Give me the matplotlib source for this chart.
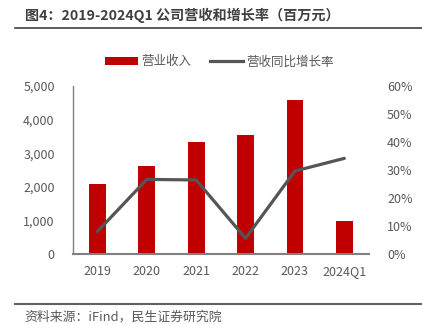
import matplotlib
matplotlib.use("Agg")
import matplotlib.pyplot as plt
from matplotlib.ticker import FuncFormatter, MultipleLocator
from matplotlib.lines import Line2D
from matplotlib.patches import Patch

plt.rcParams['font.family'] = ['Noto Sans CJK SC', 'DejaVu Sans']

categories = ["2019", "2020", "2021", "2022", "2023", "2024Q1"]
revenue = [2080, 2635, 3335, 3535, 4570, 995]
growth = [8.1, 26.7, 26.5, 5.7, 29.7, 34.2]

title = "图4：2019-2024Q1 公司营收和增长率（百万元）"
source = "资料来源：iFind，民生证券研究院"
bar_label = "营业收入"
line_label = "营收同比增长率"

bar_color = "#C00000"
line_color = "#555555"
text_color = "#595959"
spine_color = "#808080"

fig = plt.figure(figsize=(4.22, 3.24), dpi=100)
ax = fig.add_axes([72.7/422, 1-254.3/324, (369-72.7)/422, (254.3-86)/324])
ax2 = ax.twinx()

x = list(range(len(categories)))
ax.bar(x, revenue, width=0.34, color=bar_color, zorder=2)
ax2.plot(x, growth, color=line_color, lw=2.3, solid_capstyle='round', zorder=3)

ax.set_xlim(-0.5, len(categories) - 0.5)
ax.set_ylim(0, 5000)
ax2.set_ylim(0, 60)
ax.yaxis.set_major_locator(MultipleLocator(1000))
ax2.yaxis.set_major_locator(MultipleLocator(10))
ax.yaxis.set_major_formatter(FuncFormatter(lambda v, p: f"{int(v):,}"))
ax2.yaxis.set_major_formatter(FuncFormatter(lambda v, p: f"{int(v)}%"))
ax.set_xticks(x)
ax.set_xticklabels(categories)

for a in (ax, ax2):
    for s in ("top", "right", "left", "bottom"):
        a.spines[s].set_visible(False)
    a.tick_params(length=0, labelsize=9, colors=text_color)
ax.spines["left"].set_visible(True)
ax.spines["left"].set_color(spine_color)
ax.spines["left"].set_linewidth(1.0)
ax.spines["bottom"].set_visible(True)
ax.spines["bottom"].set_color(spine_color)
ax.spines["bottom"].set_linewidth(1.5)
ax.tick_params(axis='y', pad=13)
ax.tick_params(axis='x', pad=8)
ax2.tick_params(axis='y', pad=13)

handles = [Patch(facecolor=bar_color, edgecolor='none'),
           Line2D([0], [0], color=line_color, lw=2.3)]
fig.legend(handles, [bar_label, line_label], loc='center', bbox_to_anchor=(0.52, 1-62/324),
           ncol=2, frameon=False, fontsize=9, labelcolor=text_color,
           handlelength=2.6, handleheight=0.6, columnspacing=1.5, handletextpad=0.3)

fig.text(25/422, 1-15/324, title, fontsize=10.2, fontweight='bold', color="#404040",
         ha='left', va='center')
fig.add_artist(Line2D([15/422, 1], [1-28/324, 1-28/324], color="#404040", lw=1.2))
fig.add_artist(Line2D([15/422, 1], [1-304/324, 1-304/324], color="#606060", lw=1.5))
fig.text(24/422, 1-317/324, source, fontsize=9.3, color=text_color, ha='left', va='center')

fig.savefig("out.png", dpi=100)
